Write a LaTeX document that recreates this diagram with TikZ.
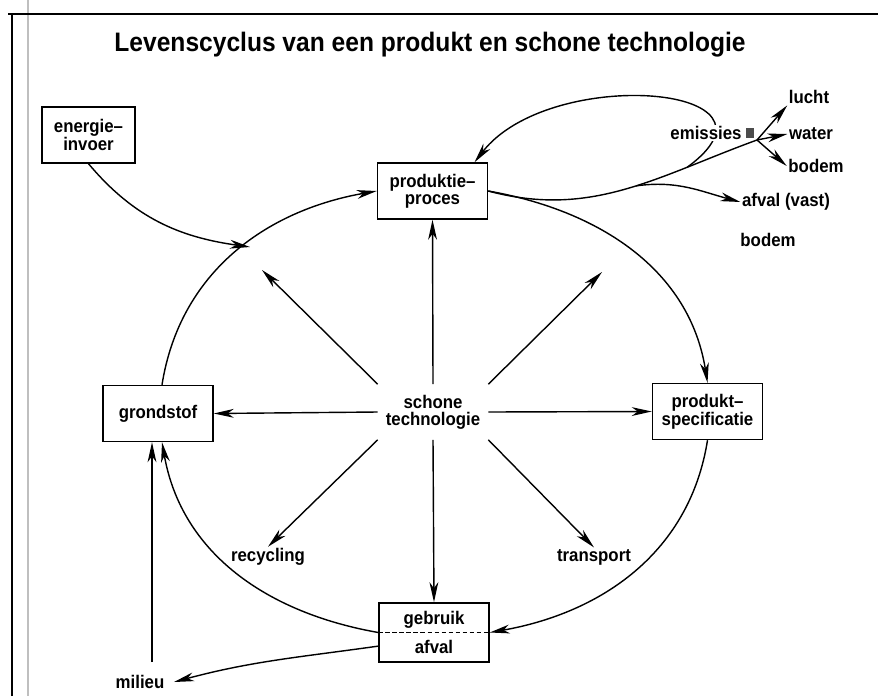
\documentclass[tikz,border=0pt]{standalone}
\usepackage{fontspec}
\setmainfont{Liberation Sans}[FakeStretch=0.92]
\usetikzlibrary{arrows.meta, positioning}

\newcommand{\lblfont}{\bfseries\fontsize{13}{12}\selectfont}
\newcommand{\titlefont}{\bfseries\fontsize{19}{22}\selectfont}

\begin{document}
\begin{tikzpicture}[
    x=0.025cm, y=-0.025cm,
    >={Stealth[length=5mm, width=2.2mm, inset=1.5mm]},
    box/.style={draw, line width=1pt, inner sep=0pt, minimum width=2.75cm, minimum height=1.4cm, align=center, font=\lblfont},
    lbl/.style={inner sep=1pt, font=\lblfont},
    cyc/.style={->, line width=1pt},
    ray/.style={->, line width=1pt},
    ]
  \useasboundingbox (0,0) rectangle (878,696);

  % frame
  \draw[black!25, line width=2pt] (28,0) -- (28,696);
  \draw[line width=1.4pt] (12,696) -- (12,14);
  \draw[line width=2pt] (8,14) -- (878,14);

  \node[font=\titlefont] (title) at (430,45) {Levenscyclus van een produkt en schone technologie};

  \node[box, minimum width=2.33cm] (invoer) at (88.5,135) {energie--\\invoer};
  \node[box] (proces) at (432.5,191) {produktie--\\proces};
  \node[box] (spec) at (707.5,411.5) {produkt--\\specificatie};
  \node[box] (grond) at (158,413.5) {grondstof};
  \node[box, minimum height=1.48cm, font=\bfseries\fontsize{13}{20.5}\selectfont] (gebruik) at (434,632.5) {gebruik\\afval};
  \draw[line width=0.8pt, dash pattern=on 3pt off 2pt] (gebruik.west) -- (gebruik.east);

  \node[lbl, minimum width=2.75cm, minimum height=1.375cm, align=center] (schone) at (433,412) {schone\\technologie};
  \node[lbl] (recyc) at (268,557) {recycling};
  \node[lbl] (transp) at (594,557) {transport};
  \node[lbl] (milieu) at (140,682) {milieu};
  \node[lbl] (lucht) at (809,97) {lucht};
  \node[lbl] (water) at (811,134) {water};
  \node[lbl] (bodemA) at (816,166) {bodem};
  \node[lbl] (afval) at (786,202) {afval (vast)};
  \node[lbl] (bodemB) at (768,240) {bodem};

  \coordinate (J) at (757,140);
  \coordinate (ein) at (250,247);
  \coordinate (mtop) at (152,662);
  \coordinate (nwtip) at (262,270);
  \coordinate (netip) at (602,272);

  % cycle
  \draw[cyc] ([xshift=0.1cm]grond.north) to[out=81, in=190] (proces.west);
  \draw[cyc] (proces.east) to[out=-10, in=99] (spec.north);
  \draw[cyc] (spec.south) to[out=-99, in=10] (gebruik.east);
  \draw[cyc] (gebruik.west) to[out=170, in=-80] ([xshift=0.1cm]grond.south);
  \draw[cyc] (invoer.south) to[out=-50, in=172] (ein);

  % schone technologie
  \draw[ray] (schone.north) -- (proces.south);
  \draw[ray] (schone.south) -- (gebruik.north);
  \draw[ray] (schone.west) -- (grond.east);
  \draw[ray] (schone.east) -- (spec.west);
  \draw[ray] (schone.north west) -- (nwtip);
  \draw[ray] (schone.north east) -- (netip);
  \draw[ray] (schone.south west) -- (recyc.north);
  \draw[ray] (schone.south east) -- (transp.north);

  % milieu
  \draw[ray] (mtop) -- (mtop |- grond.south);
  \draw[ray] ([yshift=-0.34cm]gebruik.west) to[out=188, in=15] ([xshift=0.2cm]milieu.east);

  % emissies
  \draw[line width=1pt] (proces.east) to[out=-15, in=200] coordinate[pos=0.55] (ab) coordinate[pos=0.75] (lb) (J);
  \draw[ray] (lb) .. controls (800,85) and (550,65) .. ([xshift=1.05cm]proces.north);
  \draw[ray] (ab) to[out=8, in=165] (afval.west);
  \draw[ray] (J) -- (lucht.south west);
  \draw[ray] (J) -- (water.west);
  \draw[ray] (J) -- (bodemA.west);
  \node[lbl, fill=white] (emis) at (706,133) {emissies};
  \node[fill=black!70, inner sep=0pt, minimum width=0.22cm, minimum height=0.25cm, right=0.05cm of emis] (emisq) {};
\end{tikzpicture}
\end{document}
